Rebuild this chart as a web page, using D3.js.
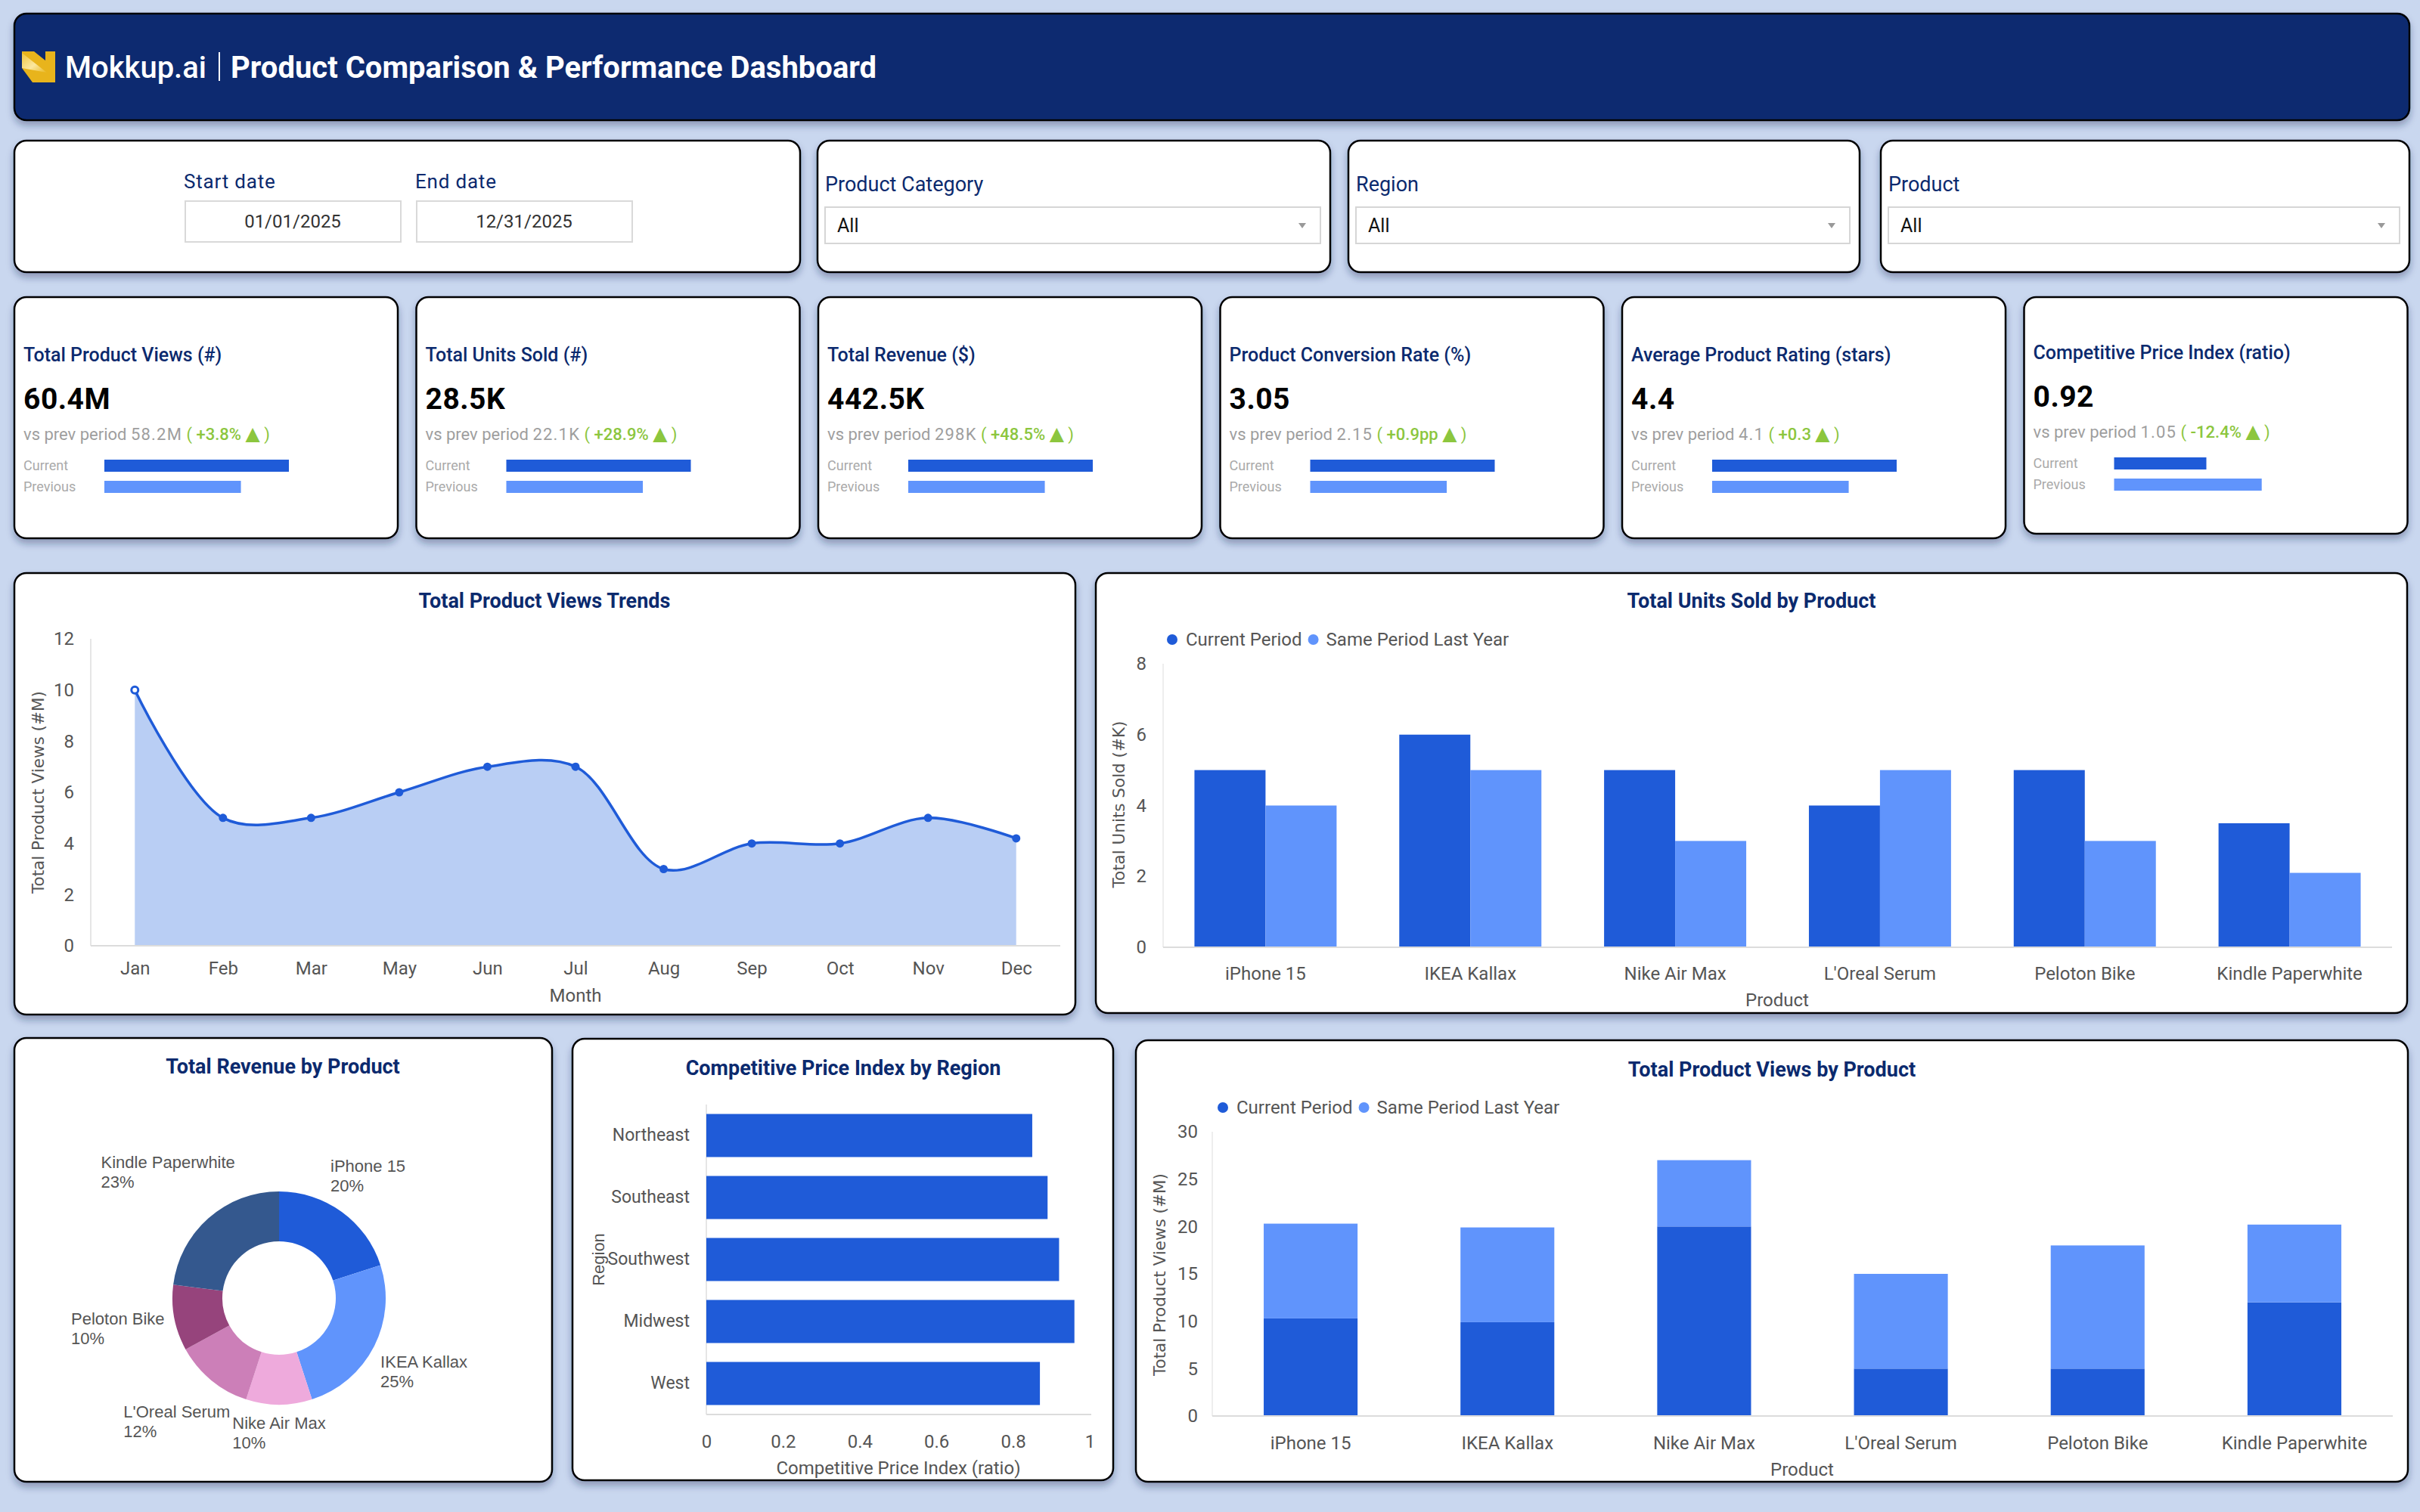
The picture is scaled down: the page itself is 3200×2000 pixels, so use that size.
<!DOCTYPE html>
<html>
<head>
<meta charset="utf-8">
<script src="https://cdn.jsdelivr.net/npm/d3@7"></script>
<style>
body { margin: 0; background: #c9d7ef; }
svg { display: block; }
</style>
</head>
<body>
<svg id="dash" width="3200" height="2000"></svg>
<script>
// ---- data ----
var months = ['Jan','Feb','Mar','May','Jun','Jul','Aug','Sep','Oct','Nov','Dec'];
var monthlyViews = [10, 5, 5, 6, 7, 7, 3, 4, 4, 5, 4.2];

var products = ['iPhone 15','IKEA Kallax','Nike Air Max',"L'Oreal Serum",'Peloton Bike','Kindle Paperwhite'];
var unitsCurrent = [5, 6, 5, 4, 5, 3.5];
var unitsLastYear = [4, 5, 3, 5, 3, 2.1];

var viewsCurrent = [10.3, 9.9, 20, 5, 5, 12];
var viewsLastYear = [10, 10, 7, 10, 13, 8.2];

var revenueShare = [20, 25, 10, 12, 10, 23];

var regions = ['Northeast','Southeast','Southwest','Midwest','West'];
var regionCpi = [0.85, 0.89, 0.92, 0.96, 0.87];

var kpiTitles = ['Total Product Views (#)','Total Units Sold (#)','Total Revenue ($)','Product Conversion Rate (%)','Average Product Rating (stars)','Competitive Price Index (ratio)'];
var kpiValues = ['60.4M','28.5K','442.5K','3.05','4.4','0.92'];
var kpiPrevValues = ['58.2M','22.1K','298K','2.15','4.1','1.05'];
var kpiChanges = ['+3.8%','+28.9%','+48.5%','+0.9pp','+0.3','-12.4%'];
var kpiBarCurrent = [1, 1, 1, 1, 1, 0.5];
var kpiBarPrevious = [0.74, 0.74, 0.74, 0.74, 0.74, 0.8];

var filterLabels = ['Product Category','Region','Product'];
var filterValues = ['All','All','All'];
var dateLabels = ['Start date','End date'];
var dateValues = ['01/01/2025','12/31/2025'];

// ---- styles ----
var navy = '#0b2a6e', blue = '#1f5bd8', lightBlue = '#6094fc', grey = '#555', green = '#8cc63e';
var donutColors = ['#1f5bd8','#6094fc','#eeaadc','#cc7fb8','#96447c','#34588e'];

var svg = d3.select('#dash');
var defs = svg.append('defs');
var shadow = defs.append('filter').attr('id','shadow')
  .attr('x','-5%').attr('y','-10%').attr('width','110%').attr('height','125%');
shadow.append('feDropShadow').attr('dx',0).attr('dy',6).attr('stdDeviation',5)
  .attr('flood-color','#1c2b52').attr('flood-opacity',0.35);

function card(x, y, w, h, fill) {
  svg.append('rect').attr('x',x).attr('y',y).attr('width',w).attr('height',h).attr('rx',16)
    .attr('fill', fill || '#fff').attr('stroke','#000').attr('stroke-width',2.5)
    .attr('filter','url(#shadow)');
}
function label(x, y, txt, size, color, opts) {
  opts = opts || {};
  return svg.append('text').attr('x',x).attr('y',y).attr('dy','0.35em')
    .attr('font-family', opts.family || 'Roboto').attr('font-size',size)
    .attr('font-weight', opts.weight || 400).attr('fill',color)
    .attr('letter-spacing', opts.spacing || 0)
    .attr('text-anchor', opts.anchor || 'start').text(txt);
}
function styleAxis(g, size, color) {
  g.select('.domain').remove();
  g.attr('font-family','Roboto').attr('font-size',size).style('color',color);
}

// ---- header ----
card(19, 18, 3167, 141, '#0a2c70');
var lg = defs.append('linearGradient').attr('id','logoGrad').attr('x1',0).attr('y1',0).attr('x2',1).attr('y2',1);
lg.append('stop').attr('offset','0%').attr('stop-color','#f0c53a');
lg.append('stop').attr('offset','55%').attr('stop-color','#fbe7a0');
lg.append('stop').attr('offset','100%').attr('stop-color','#e8b720');
svg.append('path').attr('d','M29,68 L45,68 L60,80 L60,68 L73,68 L73,109 L43,109 L29,90 Z').attr('fill','#e8b41c');
svg.append('path').attr('d','M29,70 L62,96 L29,90 Z').attr('fill','url(#logoGrad)');
label(86, 89, 'Mokkup.ai', 40, '#fff', {weight:500});
svg.append('line').attr('x1',290).attr('x2',290).attr('y1',69).attr('y2',107).attr('stroke','#fff').attr('stroke-width',2);
label(305, 89, 'Product Comparison & Performance Dashboard', 40, '#fff', {weight:700});

// ---- filters ----
card(19, 186, 1039, 174);
dateLabels.forEach(function(t, i) {
  var bx = 245 + i * 306;
  label(bx - 2, 240, t, 26, navy, {spacing:0.8});
  svg.append('rect').attr('x',bx).attr('y',266).attr('width',285).attr('height',54)
    .attr('fill','#fff').attr('stroke','#d9d9d9').attr('stroke-width',2);
  label(bx + 142, 293, dateValues[i], 24, '#333', {anchor:'middle'});
});
var filterX = [1081, 1783, 2487], filterW = [678, 676, 699];
filterLabels.forEach(function(t, i) {
  var fx = filterX[i], fw = filterW[i];
  card(fx, 186, fw, 174);
  label(fx + 10, 244, t, 27, navy);
  svg.append('rect').attr('x',fx + 10).attr('y',274).attr('width',fw - 23).attr('height',48)
    .attr('fill','#fff').attr('stroke','#d6d6d6').attr('stroke-width',2);
  label(fx + 26, 298, filterValues[i], 25, '#111');
  var ax = fx + fw - 37;
  svg.append('path').attr('d','M' + (ax - 5) + ',295 L' + (ax + 5) + ',295 L' + ax + ',302 Z').attr('fill','#999');
});

// ---- KPI cards ----
var barLen = d3.scaleLinear().domain([0,1]).range([0,244]);
kpiTitles.forEach(function(t, i) {
  var cx = 19 + i * 531.5, off = i === 5 ? -3 : 0;
  card(cx, 393, 507, i === 5 ? 313 : 319);
  label(cx + 12, 469 + off, t, 25, navy, {weight:500});
  label(cx + 12, 527 + off, kpiValues[i], 39, '#000', {weight:700, spacing:0.5});
  var vs = label(cx + 12, 574 + off, '', 22, '#9e9e9e');
  vs.append('tspan').text('vs prev period ');
  vs.append('tspan').attr('letter-spacing',1.2).text(kpiPrevValues[i]);
  vs.append('tspan').attr('fill',green).text(' ( ');
  vs.append('tspan').attr('fill',green).attr('font-weight',500).text(kpiChanges[i] + ' ');
  vs.append('tspan').attr('fill',green).attr('font-size',25).attr('font-family','DejaVu Sans').text('▲');
  vs.append('tspan').attr('fill',green).text(' )');
  label(cx + 12, 616 + off, 'Current', 18, '#aaa');
  label(cx + 12, 644 + off, 'Previous', 18, '#aaa');
  svg.append('rect').attr('x',cx + 119).attr('y',608 + off).attr('height',16)
    .attr('width',barLen(kpiBarCurrent[i])).attr('fill',blue);
  svg.append('rect').attr('x',cx + 119).attr('y',636 + off).attr('height',16)
    .attr('width',barLen(kpiBarPrevious[i])).attr('fill',lightBlue);
});

// ---- Total Product Views Trends ----
card(19, 758, 1403, 584);
label(720, 795, 'Total Product Views Trends', 27, navy, {weight:700, anchor:'middle'});
var lx = d3.scalePoint().domain(months).range([120,1402]).padding(0.5);
var ly = d3.scaleLinear().domain([0,12]).range([1251,845]);
svg.append('line').attr('x1',120).attr('x2',120).attr('y1',845).attr('y2',1251).attr('stroke','#e6e6e6').attr('stroke-width',2);
svg.append('path').datum(monthlyViews)
  .attr('d', d3.area().x(function(d,i){ return lx(months[i]); }).y0(ly(0)).y1(function(d){ return ly(d); }).curve(d3.curveCatmullRom))
  .attr('fill','#b9cef4');
svg.append('line').attr('x1',120).attr('x2',1402).attr('y1',1251).attr('y2',1251).attr('stroke','#dcdcdc').attr('stroke-width',2);
svg.append('path').datum(monthlyViews)
  .attr('d', d3.line().x(function(d,i){ return lx(months[i]); }).y(function(d){ return ly(d); }).curve(d3.curveCatmullRom))
  .attr('fill','none').attr('stroke',blue).attr('stroke-width',3.5);
svg.selectAll('.pt').data(monthlyViews).enter().append('circle')
  .attr('cx', function(d,i){ return lx(months[i]); }).attr('cy', function(d){ return ly(d); })
  .attr('r', function(d,i){ return i === 0 ? 4.5 : 5.5; })
  .attr('fill', function(d,i){ return i === 0 ? '#fff' : blue; })
  .attr('stroke', blue).attr('stroke-width', function(d,i){ return i === 0 ? 3 : 0; });
var gly = svg.append('g').attr('transform','translate(120,0)')
  .call(d3.axisLeft(ly).tickValues([0,2,4,6,8,10,12]).tickSize(0).tickPadding(22));
styleAxis(gly, 24, grey);
var glx = svg.append('g').attr('transform','translate(0,1251)')
  .call(d3.axisBottom(lx).tickSize(0).tickPadding(21));
styleAxis(glx, 24, grey);
label(761, 1317, 'Month', 24, grey, {anchor:'middle'});
svg.append('text').attr('transform','translate(50,1048) rotate(-90)').attr('dy','0.35em')
  .attr('text-anchor','middle').attr('font-family','DejaVu Sans').attr('font-size',21.5).attr('fill',grey)
  .text('Total Product Views (#M)');

// ---- legend helper ----
function legend(x, y) {
  var g = svg.append('g');
  g.append('circle').attr('cx',x).attr('cy',y).attr('r',7).attr('fill',blue);
  var t1 = g.append('text').attr('x',x + 18).attr('y',y).attr('dy','0.35em').attr('font-family','Roboto')
    .attr('font-size',24).attr('fill',grey).text('Current Period');
  var x2 = x + 18 + t1.node().getComputedTextLength() + 15;
  g.append('circle').attr('cx',x2).attr('cy',y).attr('r',7).attr('fill',lightBlue);
  g.append('text').attr('x',x2 + 17).attr('y',y).attr('dy','0.35em').attr('font-family','Roboto')
    .attr('font-size',24).attr('fill',grey).text('Same Period Last Year');
}

// ---- Total Units Sold by Product ----
card(1449, 758, 1734, 582);
label(2316, 795, 'Total Units Sold by Product', 27, navy, {weight:700, anchor:'middle'});
legend(1550, 846);
var ux0 = d3.scaleBand().domain(products).range([1538,3163]).paddingInner(0.306).paddingOuter(0.153);
var ux1 = d3.scaleBand().domain(['current','lastYear']).range([0, ux0.bandwidth()]);
var uy = d3.scaleLinear().domain([0,8]).range([1253,878]);
svg.append('line').attr('x1',1538).attr('x2',1538).attr('y1',878).attr('y2',1253).attr('stroke','#eee').attr('stroke-width',2);
var unitsRows = products.map(function(p, i) { return {product:p, current:unitsCurrent[i], lastYear:unitsLastYear[i]}; });
var ug = svg.selectAll('.ugrp').data(unitsRows).enter().append('g')
  .attr('transform', function(d){ return 'translate(' + ux0(d.product) + ',0)'; });
ug.selectAll('rect').data(function(d){ return [{k:'current', v:d.current},{k:'lastYear', v:d.lastYear}]; })
  .enter().append('rect')
  .attr('x', function(d){ return ux1(d.k); }).attr('width', ux1.bandwidth())
  .attr('y', function(d){ return uy(d.v); }).attr('height', function(d){ return uy(0) - uy(d.v); })
  .attr('fill', function(d){ return d.k === 'current' ? blue : lightBlue; });
svg.append('line').attr('x1',1538).attr('x2',3163).attr('y1',1253).attr('y2',1253).attr('stroke','#dcdcdc').attr('stroke-width',2);
var guy = svg.append('g').attr('transform','translate(1538,0)')
  .call(d3.axisLeft(uy).tickValues([0,2,4,6,8]).tickSize(0).tickPadding(22));
styleAxis(guy, 24, grey);
var gux = svg.append('g').attr('transform','translate(0,1253)')
  .call(d3.axisBottom(ux0).tickSize(0).tickPadding(26));
styleAxis(gux, 24, grey);
label(2350, 1323, 'Product', 24, grey, {anchor:'middle'});
svg.append('text').attr('transform','translate(1479,1064) rotate(-90)').attr('dy','0.35em')
  .attr('text-anchor','middle').attr('font-family','DejaVu Sans').attr('font-size',21.5).attr('fill',grey)
  .text('Total Units Sold (#K)');

// ---- Total Revenue by Product (donut) ----
card(19, 1373, 711, 587);
label(374, 1411, 'Total Revenue by Product', 27, navy, {weight:700, anchor:'middle'});
var dcx = 369, dcy = 1717, outerR = 141;
var pie = d3.pie().sort(null).value(function(d){ return d; });
var arc = d3.arc().innerRadius(75).outerRadius(outerR);
var slices = pie(revenueShare);
var dg = svg.append('g').attr('transform','translate(' + dcx + ',' + dcy + ')');
dg.selectAll('path').data(slices).enter().append('path')
  .attr('d', arc).attr('fill', function(d,i){ return donutColors[i]; });
slices.forEach(function(s, i) {
  var a = (s.startAngle + s.endAngle) / 2;
  var t = svg.append('text').attr('font-family','Liberation Sans').attr('font-size',22).attr('fill',grey);
  t.append('tspan').attr('x',0).attr('y',0).text(products[i]);
  t.append('tspan').attr('x',0).attr('y',26).text(revenueShare[i] + '%');
  var bb = t.node().getBBox();
  // push the label box outwards until its nearest corner clears the ring
  var d = outerR, bx, by;
  for (; d < 400; d += 1) {
    var px = d * Math.sin(a), py = -d * Math.cos(a);
    var nx = Math.max(px - bb.width / 2, Math.min(0, px + bb.width / 2));
    var ny = Math.max(py - bb.height / 2, Math.min(0, py + bb.height / 2));
    bx = px; by = py;
    if (Math.sqrt(nx * nx + ny * ny) >= outerR + 11) break;
  }
  t.attr('transform','translate(' + (dcx + bx - bb.width / 2) + ',' + (dcy + by - bb.y - bb.height / 2) + ')');
});

// ---- Competitive Price Index by Region ----
card(757, 1374, 715, 584);
label(1115, 1413, 'Competitive Price Index by Region', 27, navy, {weight:700, anchor:'middle'});
var cy = d3.scaleBand().domain(regions).range([1461,1871]).paddingInner(0.305).paddingOuter(0.1525);
var cx = d3.scaleLinear().domain([0,1]).range([934,1441]);
svg.append('line').attr('x1',934).attr('x2',934).attr('y1',1461).attr('y2',1871).attr('stroke','#e6e6e6').attr('stroke-width',2);
svg.selectAll('.cpi').data(regionCpi).enter().append('rect')
  .attr('x', cx(0)).attr('y', function(d,i){ return cy(regions[i]); })
  .attr('width', function(d){ return cx(d) - cx(0); }).attr('height', cy.bandwidth()).attr('fill', blue);
svg.append('line').attr('x1',934).attr('x2',1443).attr('y1',1871).attr('y2',1871).attr('stroke','#dcdcdc').attr('stroke-width',2);
var gcy = svg.append('g').attr('transform','translate(934,0)')
  .call(d3.axisLeft(cy).tickSize(0).tickPadding(22));
styleAxis(gcy, 23, grey);
var gcx = svg.append('g').attr('transform','translate(0,1871)')
  .call(d3.axisBottom(cx).tickValues([0,0.2,0.4,0.6,0.8,1]).tickFormat(d3.format('~g')).tickSize(0).tickPadding(27));
styleAxis(gcx, 24, grey);
label(1188, 1942, 'Competitive Price Index (ratio)', 24, grey, {anchor:'middle'});
svg.append('text').attr('transform','translate(791,1666) rotate(-90)').attr('dy','0.35em')
  .attr('text-anchor','middle').attr('font-family','Liberation Sans').attr('font-size',22).attr('fill',grey)
  .text('Region');

// ---- Total Product Views by Product (stacked) ----
card(1502, 1376, 1682, 584);
label(2343, 1415, 'Total Product Views by Product', 27, navy, {weight:700, anchor:'middle'});
legend(1617, 1465);
var vx = d3.scaleBand().domain(products).range([1603,3164]).paddingInner(0.523).paddingOuter(0.2615);
var vy = d3.scaleLinear().domain([0,30]).range([1873,1497]);
svg.append('line').attr('x1',1603).attr('x2',1603).attr('y1',1497).attr('y2',1873).attr('stroke','#eee').attr('stroke-width',2);
var viewsRows = products.map(function(p, i) { return {product:p, current:viewsCurrent[i], lastYear:viewsLastYear[i]}; });
var stacked = d3.stack().keys(['current','lastYear'])(viewsRows);
svg.selectAll('.vlayer').data(stacked).enter().append('g')
  .attr('fill', function(d){ return d.key === 'current' ? blue : lightBlue; })
  .selectAll('rect').data(function(d){ return d; }).enter().append('rect')
  .attr('x', function(d){ return vx(d.data.product); }).attr('width', vx.bandwidth())
  .attr('y', function(d){ return vy(d[1]); }).attr('height', function(d){ return vy(d[0]) - vy(d[1]); });
svg.append('line').attr('x1',1603).attr('x2',3164).attr('y1',1873).attr('y2',1873).attr('stroke','#dcdcdc').attr('stroke-width',2);
var gvy = svg.append('g').attr('transform','translate(1603,0)')
  .call(d3.axisLeft(vy).tickValues([0,5,10,15,20,25,30]).tickSize(0).tickPadding(19));
styleAxis(gvy, 24, grey);
var gvx = svg.append('g').attr('transform','translate(0,1873)')
  .call(d3.axisBottom(vx).tickSize(0).tickPadding(27));
styleAxis(gvx, 24, grey);
label(2383, 1944, 'Product', 24, grey, {anchor:'middle'});
svg.append('text').attr('transform','translate(1533,1686) rotate(-90)').attr('dy','0.35em')
  .attr('text-anchor','middle').attr('font-family','DejaVu Sans').attr('font-size',21.5).attr('fill',grey)
  .text('Total Product Views (#M)');
</script>
</body>
</html>
